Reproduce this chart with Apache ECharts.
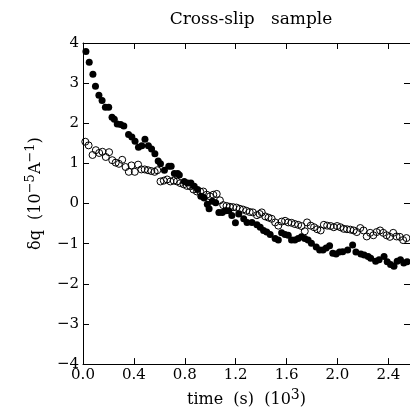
<!DOCTYPE html>
<html>
<head>
<meta charset="utf-8">
<script src="https://cdn.jsdelivr.net/npm/echarts@6/dist/echarts.min.js"></script>
<style>html,body{margin:0;padding:0;background:#fff}#c{width:410px;height:413px}</style>
</head>
<body>
<div id="c"></div>
<script>
// time (10^3 s) and delta-q (10^-5 A^-1), filled-dot series
var filledT = [0.023,0.049,0.078,0.098,0.125,0.150,0.176,0.202,0.228,0.246,0.269,0.296,0.321,0.358,0.384,0.409,0.436,0.462,0.487,0.514,0.539,0.565,0.591,0.609,0.640,0.674,0.693,0.718,0.744,0.757,0.796,0.822,0.848,0.874,0.900,0.926,0.952,0.977,0.991,1.016,1.043,1.068,1.094,1.121,1.146,1.170,1.198,1.224,1.263,1.289,1.328,1.367,1.393,1.419,1.444,1.471,1.510,1.535,1.561,1.588,1.613,1.639,1.665,1.691,1.717,1.743,1.769,1.795,1.833,1.860,1.886,1.911,1.938,1.963,1.989,2.016,2.041,2.080,2.119,2.145,2.184,2.210,2.241,2.261,2.300,2.327,2.366,2.391,2.417,2.444,2.469,2.495,2.521,2.547];
var filledQ = [3.79,3.52,3.22,2.92,2.70,2.57,2.40,2.40,2.15,2.10,1.98,1.97,1.93,1.72,1.66,1.55,1.40,1.44,1.60,1.44,1.36,1.24,1.06,0.99,0.83,0.93,0.93,0.75,0.75,0.71,0.55,0.51,0.51,0.43,0.35,0.18,0.14,-0.02,-0.13,0.06,0.02,-0.22,-0.22,-0.18,-0.18,-0.30,-0.48,-0.26,-0.38,-0.47,-0.47,-0.53,-0.59,-0.67,-0.71,-0.77,-0.87,-0.91,-0.73,-0.77,-0.79,-0.91,-0.91,-0.87,-0.83,-0.87,-0.91,-0.99,-1.08,-1.16,-1.16,-1.11,-1.05,-1.24,-1.26,-1.21,-1.20,-1.16,-1.03,-1.21,-1.26,-1.28,-1.32,-1.36,-1.44,-1.40,-1.32,-1.45,-1.52,-1.56,-1.44,-1.40,-1.48,-1.45];
// open-circle series
var openT = [0.018,0.044,0.075,0.101,0.127,0.153,0.179,0.205,0.230,0.257,0.282,0.308,0.335,0.360,0.381,0.407,0.433,0.459,0.485,0.511,0.537,0.563,0.584,0.609,0.635,0.661,0.687,0.713,0.739,0.765,0.791,0.817,0.843,0.868,0.895,0.921,0.946,0.973,0.998,1.024,1.051,1.076,1.102,1.128,1.154,1.180,1.206,1.232,1.258,1.284,1.310,1.335,1.367,1.388,1.405,1.432,1.458,1.483,1.510,1.535,1.561,1.588,1.613,1.639,1.665,1.691,1.717,1.743,1.761,1.790,1.816,1.841,1.868,1.893,1.919,1.946,1.971,1.997,2.023,2.049,2.075,2.101,2.127,2.152,2.179,2.205,2.230,2.257,2.282,2.308,2.335,2.360,2.386,2.412,2.438,2.464,2.490,2.516,2.542];
var openQ = [1.54,1.45,1.21,1.33,1.26,1.29,1.16,1.28,1.08,1.02,0.99,1.09,0.91,0.79,0.95,0.79,0.97,0.85,0.85,0.83,0.81,0.79,0.83,0.55,0.57,0.60,0.55,0.57,0.55,0.51,0.48,0.44,0.43,0.35,0.30,0.30,0.30,0.22,0.18,0.22,0.24,0.08,-0.04,-0.06,-0.08,-0.09,-0.10,-0.13,-0.15,-0.18,-0.21,-0.22,-0.29,-0.26,-0.22,-0.32,-0.35,-0.38,-0.47,-0.55,-0.45,-0.43,-0.47,-0.48,-0.51,-0.53,-0.56,-0.69,-0.47,-0.55,-0.59,-0.64,-0.67,-0.53,-0.55,-0.56,-0.59,-0.56,-0.59,-0.63,-0.64,-0.65,-0.67,-0.71,-0.61,-0.67,-0.82,-0.73,-0.79,-0.71,-0.67,-0.73,-0.79,-0.83,-0.73,-0.82,-0.83,-0.91,-0.86];
var xTicks = [0.0,0.4,0.8,1.2,1.6,2.0,2.4];
var yTicks = [-4,-3,-2,-1,0,1,2,3,4];

function pairs(xs, ys){ return xs.map(function(x,i){ return [x, ys[i]]; }); }

var serif = 'DejaVu Serif';
var chart = echarts.init(document.getElementById('c'), null, {renderer:'canvas'});
var axisCommon = {
  type:'value',
  axisLine:{show:true, onZero:false, lineStyle:{color:'#000', width:1}},
  axisTick:{show:true, inside:true, length:6, lineStyle:{color:'#000', width:1}},
  splitLine:{show:false}
};
chart.setOption({
  animation:false,
  backgroundColor:'#fff',
  title:{
    text:'Cross-slip   sample', left:246, top:6, textAlign:'center',
    textStyle:{fontFamily:serif, fontSize:17, fontWeight:'normal', color:'#000'}
  },
  grid:{left:83, top:43, right:-3, bottom:41, containLabel:false},
  xAxis:[
    Object.assign({}, axisCommon, {
      position:'bottom', min:0, max:2.57, interval:0.4,
      axisLabel:{show:true, margin:4, showMaxLabel:false, fontFamily:serif, fontSize:15, color:'#000',
        formatter:function(v){ return xTicks.indexOf(Math.round(v*10)/10) >= 0 ? v.toFixed(1) : ''; }},
      name:'{n|time  (s)  (10}{s|3}{n|)}', nameLocation:'middle', nameGap:20,
      nameTextStyle:{rich:{n:{fontFamily:serif, fontSize:16, color:'#000'}, s:{fontFamily:serif, fontSize:14, color:'#000', verticalAlign:'top', padding:[0,0,10,0]}}}
    }),
    Object.assign({}, axisCommon, {position:'top', min:0, max:2.57, interval:0.4, axisLabel:{show:false}})
  ],
  yAxis:[
    Object.assign({}, axisCommon, {
      position:'left', min:-4, max:4, interval:1,
      axisLabel:{show:true, margin:4, fontFamily:serif, fontSize:15, color:'#000',
        formatter:function(v){ return yTicks.indexOf(v) >= 0 ? String(v).replace('-', '\u2212') : ''; }},
      name:'{n|\u03b4q  (10}{s|\u22125}{n|A}{s|\u22121}{n|)}', nameLocation:'middle', nameGap:36, nameRotate:90,
      nameTextStyle:{padding:[0,0,0,20], rich:{n:{fontFamily:serif, fontSize:16, color:'#000'}, s:{fontFamily:serif, fontSize:13, color:'#000', verticalAlign:'top', padding:[0,0,10,0]}}}
    }),
    Object.assign({}, axisCommon, {position:'right', min:-4, max:4, interval:1, axisLabel:{show:false}})
  ],
  series:[
    {type:'scatter', data:pairs(openT, openQ), symbol:'circle', symbolSize:7,
     itemStyle:{color:'rgba(0,0,0,0)', borderColor:'#000', borderWidth:1, opacity:1}},
    {type:'scatter', data:pairs(filledT, filledQ), symbol:'circle', symbolSize:7,
     itemStyle:{color:'#000', opacity:1}}
  ]
});
</script>
</body>
</html>
